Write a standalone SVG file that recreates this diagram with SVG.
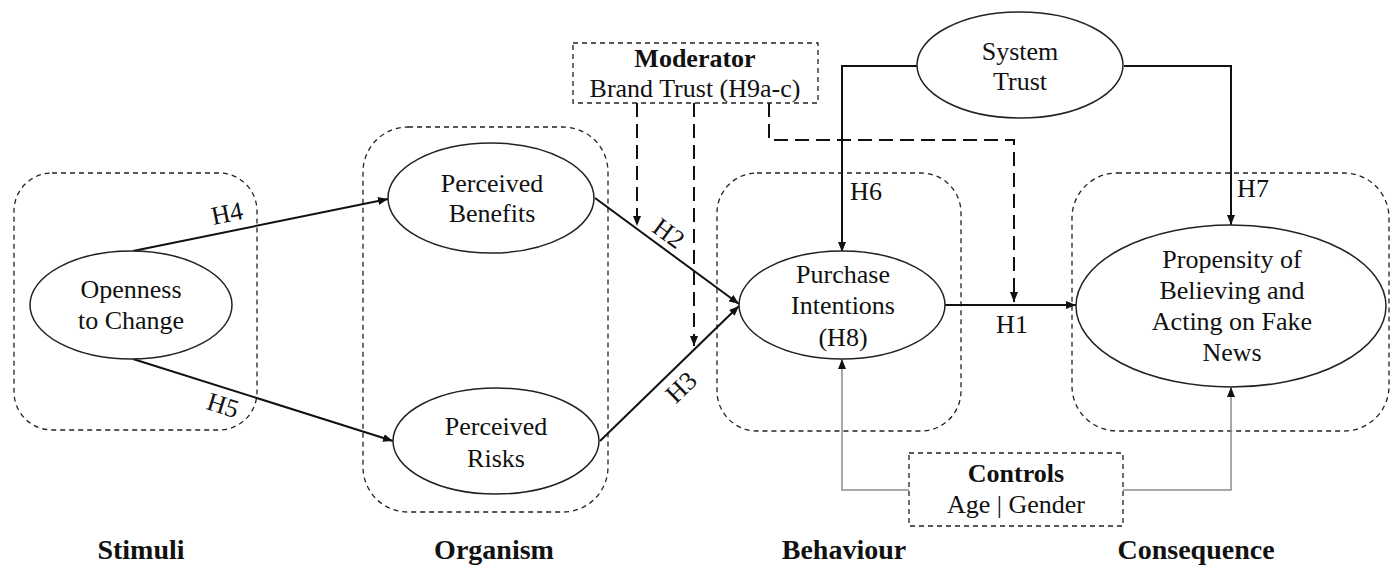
<svg xmlns="http://www.w3.org/2000/svg" width="1394" height="568" viewBox="0 0 1394 568" font-family="'Liberation Serif', 'DejaVu Serif', serif">
<style>
  text { font-family: "Liberation Serif", "Times New Roman", Times, "DejaVu Serif", serif; fill: #111; }
  .t { font-size: 26px; text-anchor: middle; }
  .b { font-weight: bold; }
  .lab { font-size: 28px; font-weight: bold; text-anchor: middle; }
  .grp { fill: none; stroke: #222; stroke-width: 1.3; stroke-dasharray: 5 4; }
  .box { fill: #fff; stroke: #222; stroke-width: 1.3; stroke-dasharray: 5 4; }
  .node { fill: #fff; stroke: #222; stroke-width: 1.5; }
  .sol { fill: none; stroke: #111; stroke-width: 2; marker-end: url(#ah); }
  .mod { fill: none; stroke: #111; stroke-width: 2; stroke-dasharray: 14 7; marker-end: url(#ah); }
  .ctl { fill: none; stroke: #8c8c8c; stroke-width: 1.5; marker-end: url(#ah); }
</style>
<defs>
  <marker id="ah" viewBox="0 0 10 8" refX="10" refY="4" markerWidth="10" markerHeight="8" markerUnits="userSpaceOnUse" orient="auto">
    <path d="M0,0 L10,4 L0,8 z" fill="#111"/>
  </marker>
</defs>
<rect width="1394" height="568" fill="#fff"/>

<g id="groups">
  <rect class="grp" x="14" y="173" width="243" height="257" rx="38"/>
  <rect class="grp" x="363" y="127" width="245" height="385" rx="45"/>
  <rect class="grp" x="717" y="173" width="244" height="258" rx="40"/>
  <rect class="grp" x="1072" y="173" width="317" height="258" rx="45"/>
</g>

<g id="connectors">
  <path class="sol" d="M133,251 L388,199"/>
  <path class="sol" d="M133,359 L393,441"/>
  <path class="sol" d="M595,198 L739,304"/>
  <path class="sol" d="M600,441 L739,306"/>
  <path class="sol" d="M945,305 L1076,305"/>
  <path class="sol" d="M917,66 H842 V252"/>
  <path class="sol" d="M1124,66 H1231 V225"/>
  <path class="mod" d="M637,103 V226"/>
  <path class="mod" d="M694,103 V346"/>
  <path class="mod" d="M769,103 V140 H1014 V302"/>
  <path class="ctl" d="M909,490 H842 V359"/>
  <path class="ctl" d="M1123,490 H1231 V387"/>
  <text class="t" font-family="'Liberation Serif', serif" transform="translate(227,213) rotate(-11.5)" y="9">H4</text>
  <text class="t" font-family="'Liberation Serif', serif" transform="translate(223,405) rotate(17.5)" y="9">H5</text>
  <text class="t" font-family="'Liberation Serif', serif" transform="translate(669,233) rotate(36.5)" y="9">H2</text>
  <text class="t" font-family="'Liberation Serif', serif" transform="translate(681,387) rotate(-44)" y="9">H3</text>
  <text class="t" x="866" y="200">H6</text>
  <text class="t" x="1253" y="197">H7</text>
  <text class="t" x="1012" y="333">H1</text>
</g>

<g id="openness">
  <ellipse class="node" cx="131" cy="305" rx="101" ry="54"/>
  <text class="t" x="131" y="298">Openness</text>
  <text class="t" x="131" y="329">to Change</text>
</g>
<g id="benefits">
  <ellipse class="node" cx="491" cy="198" rx="103" ry="55"/>
  <text class="t" x="492" y="192">Perceived</text>
  <text class="t" x="492" y="222">Benefits</text>
</g>
<g id="risks">
  <ellipse class="node" cx="496" cy="441" rx="103" ry="53"/>
  <text class="t" x="496" y="435">Perceived</text>
  <text class="t" x="496" y="467">Risks</text>
</g>
<g id="purchase">
  <ellipse class="node" cx="842" cy="305" rx="103" ry="54"/>
  <text class="t" x="843" y="283">Purchase</text>
  <text class="t" x="843" y="314">Intentions</text>
  <text class="t" x="843" y="346">(H8)</text>
</g>
<g id="propensity">
  <ellipse class="node" cx="1231" cy="306" rx="155" ry="81"/>
  <text class="t" x="1232" y="268">Propensity of</text>
  <text class="t" x="1232" y="299">Believing and</text>
  <text class="t" x="1232" y="330">Acting on Fake</text>
  <text class="t" x="1232" y="361">News</text>
</g>
<g id="systemtrust">
  <ellipse class="node" cx="1020" cy="65" rx="103" ry="53"/>
  <text class="t" x="1020" y="60">System</text>
  <text class="t" x="1020" y="90">Trust</text>
</g>
<g id="moderator">
  <rect class="box" x="573" y="43" width="245" height="60"/>
  <text class="t b" x="695" y="67">Moderator</text>
  <text class="t" x="695" y="97">Brand Trust (H9a-c)</text>
</g>
<g id="controls">
  <rect class="box" x="909" y="453" width="214" height="73"/>
  <text class="t b" x="1016" y="482">Controls</text>
  <text class="t" x="1016" y="513">Age | Gender</text>
</g>

<g id="stage-labels">
  <text class="lab" x="141" y="559">Stimuli</text>
  <text class="lab" x="494" y="559">Organism</text>
  <text class="lab" x="844" y="559">Behaviour</text>
  <text class="lab" x="1196" y="559">Consequence</text>
</g>
</svg>
